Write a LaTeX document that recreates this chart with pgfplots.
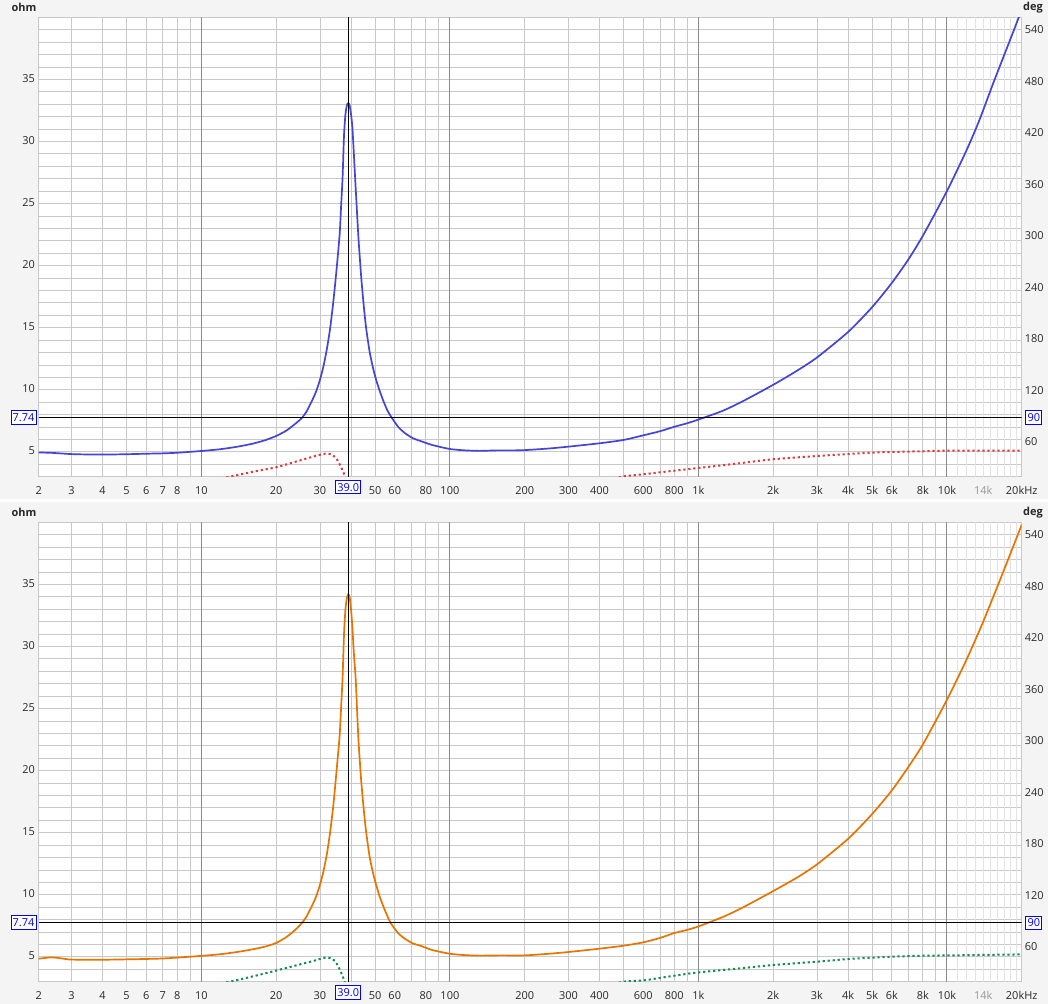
\documentclass[border=0pt]{standalone}
\usepackage{fontspec}
\setmainfont{Open Sans}
\usepackage{pgfplots}
\pgfplotsset{compat=1.18}
\usepackage{pgfplotstable}

\definecolor{bgc}{RGB}{244,244,244}
\definecolor{gridc}{RGB}{200,200,200}
\definecolor{gridd}{RGB}{140,140,140}
\definecolor{gridl}{RGB}{226,226,226}
\definecolor{tickc}{RGB}{40,40,40}
\definecolor{grayfk}{RGB}{150,150,150}
\definecolor{zblue}{RGB}{68,68,214}
\definecolor{zorange}{RGB}{232,116,0}
\definecolor{pred}{RGB}{220,60,60}
\definecolor{pgreen}{RGB}{20,140,80}
\definecolor{mk}{RGB}{0,0,255}

\pgfplotstableread{
f z
2.215 4.95
2.5 4.92
3 4.82
3.5 4.79
4 4.78
5 4.81
6 4.85
7 4.88
8 4.93
10 5.07
12 5.22
14 5.42
16 5.65
18 5.93
20 6.28
22 6.72
24 7.3
25.4 7.74
26.5 8.25
28 9.2
29 9.9
30 10.8
31 11.9
32 13.3
33 15.0
34 17.2
35 19.7
36 22.5
36.5 24.8
37 27.1
37.5 30.5
38 32.2
38.5 32.9
39 33.1
39.5 32.9
40 32.2
40.5 31.2
41 29.3
41.6 26.9
42 25.4
42.5 23.5
43 21.8
44 19.0
45 16.8
46 15.0
47.5 13.1
49 11.8
50.5 10.8
52 10.0
54 9.1
56 8.35
58.4 7.74
62 7.0
66 6.5
71 6.1
76 5.88
85 5.55
100 5.23
115 5.12
132 5.08
155 5.12
180 5.12
200 5.14
250 5.27
300 5.42
400 5.69
500 5.96
600 6.33
700 6.66
800 7.02
900 7.3
1000 7.6
1250 8.3
1500 9.05
2000 10.4
2500 11.55
3000 12.6
4000 14.65
5000 16.65
6000 18.6
7000 20.5
8000 22.4
10000 26.0
12000 29.3
13500 31.7
15400 34.75
17500 37.6
20000 40.6
}\zA

\pgfplotstableread{
f z
2.215 4.85
2.5 4.96
2.8 4.85
3 4.78
4 4.77
5 4.8
7 4.87
10 5.08
12 5.22
14 5.4
16 5.6
18 5.82
20 6.12
22 6.6
24 7.22
25.4 7.74
26.5 8.25
28 9.2
29 9.9
30 10.8
31 11.9
32 13.3
33 15.1
34 17.3
35 20.0
36 22.8
36.5 25.1
37 27.5
37.5 31.0
38 33.0
38.5 33.9
39 34.2
39.5 34.0
40 33.0
40.5 31.6
41 29.7
41.8 27.3
42.5 24.0
43 22.0
44 19.1
45 16.9
46 15.1
47.5 13.1
49 11.8
50.5 10.8
52 9.95
54 9.05
56 8.3
57.7 7.74
62 6.9
66 6.45
71 6.08
76 5.9
85 5.55
100 5.25
115 5.14
132 5.1
160 5.12
200 5.12
250 5.25
300 5.39
400 5.66
500 5.9
600 6.17
700 6.52
800 6.92
900 7.17
1000 7.45
1250 8.2
1500 8.95
2000 10.3
2500 11.4
3000 12.45
4000 14.5
5000 16.5
6000 18.4
7000 20.3
8000 22.1
10000 25.7
12000 28.95
14000 32.0
17000 36.2
20000 39.8
}\zB

\pgfplotstableread{
f p
11 17
13 21
16 26.5
20 32
23 37
26 41.5
28.5 44.8
30 46.5
31.6 47.8
33 47.3
34.5 44
35.5 39
36.5 32
37.3 26
37.9 21
38.4 15
}\pAlow
\pgfplotstableread{
f p
400 14
492 21
600 23.8
700 26.1
800 28
1000 31.1
1500 37
2000 41.3
3000 45.1
4000 47.4
5000 49
6000 49.8
8000 50.6
10000 51.3
15000 51.4
20000 51.3
}\pAhigh

\pgfplotstableread{
f p
11 17
13 21
16 27
20 34
23 38.5
26 42.5
28.5 45.5
30 47.5
31.6 49
33 48.5
34.5 45
35.5 39
36.3 33.3
37 27.5
37.5 23.4
38 17
}\pBlow
\pgfplotstableread{
f p
400 14
500 21
600 22.5
800 28
1000 31.8
1500 36.8
2000 40.4
3000 44.3
4000 47.4
5000 48.9
6000 50.1
8000 51.3
10000 51.6
15000 52.3
20000 52.8
}\pBhigh

\newcommand\tfont{\fontsize{11}{13}\selectfont}
\tikzset{
  zzbox/.style={draw=mk, fill=white, text=mk, line width=0.9bp,
    inner xsep=1.6bp, inner ysep=0pt, minimum height=13.5bp,
    font=\tfont},
  zzlab/.style={font=\tfont\bfseries, text=tickc},
}

\begin{document}
\begin{tikzpicture}
\path[use as bounding box] (0,0) rectangle (1048bp,1004bp);
\fill[bgc] (0,0) rectangle (1048bp,1004bp);
\fill[white] (0,502bp) rectangle (1048bp,505bp);
\fill[white] (38.7bp,527.3bp) rectangle (1021.7bp,986.7bp);
\fill[white] (38.7bp,22.3bp) rectangle (1021.7bp,481.7bp);

% ================= top panel =================
\begin{axis}[
  at={(38.7bp,527.3bp)}, anchor=south west,
  scale only axis, width=983bp, height=459.4bp,
  xmode=log, xmin=2.215, xmax=20000, ymin=3, ymax=40,
  major tick length=0pt, minor tick length=0pt,
  minor x tick num=0, minor y tick num=0,
  axis line style={draw=gridc, line width=1bp},
  xtick={2.215,3,4,5,6,7,8,9,20,30,40,50,60,70,80,90,200,300,400,500,600,700,800,900,2000,3000,4000,5000,6000,7000,8000,9000,20000},
  xticklabels={2,3,4,5,6,7,8,,20,30,,50,60,,80,,200,300,400,,600,,800,,2k,3k,4k,5k,6k,,8k,,20kHz},
  extra x ticks={10,100,1000,10000},
  extra x tick labels={10,100,1k,10k},
  extra x tick style={major grid style={draw=gridd, line width=1bp}},
  ytick={3,4,...,40},
  yticklabels={,,5,,,,,10,,,,,15,,,,,20,,,,,25,,,,,30,,,,,35,,,,,},
  xmajorgrids, ymajorgrids,
  major grid style={draw=gridc, line width=0.8bp},
  xticklabel style={font=\tfont, text=tickc, anchor=mid, yshift=-15bp},
  yticklabel style={font=\tfont, text=tickc, anchor=mid east, inner sep=0pt, xshift=-3.5bp},
]
\draw[gridl, line width=0.8bp]
  (axis cs:11000,3) -- (axis cs:11000,40) (axis cs:12000,3) -- (axis cs:12000,40)
  (axis cs:13000,3) -- (axis cs:13000,40) (axis cs:14000,3) -- (axis cs:14000,40)
  (axis cs:15000,3) -- (axis cs:15000,40) (axis cs:16000,3) -- (axis cs:16000,40)
  (axis cs:17000,3) -- (axis cs:17000,40) (axis cs:18000,3) -- (axis cs:18000,40)
  (axis cs:19000,3) -- (axis cs:19000,40);
\addplot[zblue, line width=1.7bp, smooth, tension=0.4] table[x=f,y=z] {\zA};
\draw[black, line width=1bp] (axis cs:2.215,7.74) -- (axis cs:20000,7.74);
\draw[black, line width=1bp] (axis cs:39,3) -- (axis cs:39,40);
\end{axis}
\begin{axis}[
  at={(38.7bp,527.3bp)}, anchor=south west,
  scale only axis, width=983bp, height=459.4bp,
  xmode=log, xmin=2.215, xmax=20000, ymin=21, ymax=556,
  axis line style={draw=none},
  major tick length=0pt, minor tick length=0pt,
  xtick=\empty,
  ytick={60,120,180,240,300,360,420,480,540},
  yticklabels={60,120,180,240,300,360,420,480,540},
  yticklabel pos=right,
  yticklabel style={font=\tfont, text=tickc, anchor=mid west, inner sep=0pt, xshift=3bp},
]
\addplot[pred, line width=2bp, dash pattern=on 2.2bp off 2.8bp, smooth] table[x=f,y=p] {\pAlow};
\addplot[pred, line width=2bp, dash pattern=on 2.2bp off 2.8bp, smooth] table[x=f,y=p] {\pAhigh};
\end{axis}
\node[zzlab] at (24bp,996.5bp) {ohm};
\node[zzlab] at (1033bp,996.5bp) {deg};
\node[font=\tfont, text=grayfk, anchor=mid] at (983.2bp,512.3bp) {14k};
\node[zzbox] at (23.5bp,586.7bp) {7.74};
\node[zzbox] at (1033.8bp,586.3bp) {90};
\node[zzbox] at (348.3bp,516.8bp) {39.0};

% ================= bottom panel =================
\begin{axis}[
  at={(38.7bp,22.3bp)}, anchor=south west,
  scale only axis, width=983bp, height=459.4bp,
  xmode=log, xmin=2.215, xmax=20000, ymin=3, ymax=40,
  major tick length=0pt, minor tick length=0pt,
  minor x tick num=0, minor y tick num=0,
  axis line style={draw=gridc, line width=1bp},
  xtick={2.215,3,4,5,6,7,8,9,20,30,40,50,60,70,80,90,200,300,400,500,600,700,800,900,2000,3000,4000,5000,6000,7000,8000,9000,20000},
  xticklabels={2,3,4,5,6,7,8,,20,30,,50,60,,80,,200,300,400,,600,,800,,2k,3k,4k,5k,6k,,8k,,20kHz},
  extra x ticks={10,100,1000,10000},
  extra x tick labels={10,100,1k,10k},
  extra x tick style={major grid style={draw=gridd, line width=1bp}},
  ytick={3,4,...,40},
  yticklabels={,,5,,,,,10,,,,,15,,,,,20,,,,,25,,,,,30,,,,,35,,,,,},
  xmajorgrids, ymajorgrids,
  major grid style={draw=gridc, line width=0.8bp},
  xticklabel style={font=\tfont, text=tickc, anchor=mid, yshift=-15bp},
  yticklabel style={font=\tfont, text=tickc, anchor=mid east, inner sep=0pt, xshift=-3.5bp},
]
\draw[gridl, line width=0.8bp]
  (axis cs:11000,3) -- (axis cs:11000,40) (axis cs:12000,3) -- (axis cs:12000,40)
  (axis cs:13000,3) -- (axis cs:13000,40) (axis cs:14000,3) -- (axis cs:14000,40)
  (axis cs:15000,3) -- (axis cs:15000,40) (axis cs:16000,3) -- (axis cs:16000,40)
  (axis cs:17000,3) -- (axis cs:17000,40) (axis cs:18000,3) -- (axis cs:18000,40)
  (axis cs:19000,3) -- (axis cs:19000,40);
\addplot[zorange, line width=1.7bp, smooth, tension=0.4] table[x=f,y=z] {\zB};
\draw[black, line width=1bp] (axis cs:2.215,7.74) -- (axis cs:20000,7.74);
\draw[black, line width=1bp] (axis cs:39,3) -- (axis cs:39,40);
\end{axis}
\begin{axis}[
  at={(38.7bp,22.3bp)}, anchor=south west,
  scale only axis, width=983bp, height=459.4bp,
  xmode=log, xmin=2.215, xmax=20000, ymin=21, ymax=556,
  axis line style={draw=none},
  major tick length=0pt, minor tick length=0pt,
  xtick=\empty,
  ytick={60,120,180,240,300,360,420,480,540},
  yticklabels={60,120,180,240,300,360,420,480,540},
  yticklabel pos=right,
  yticklabel style={font=\tfont, text=tickc, anchor=mid west, inner sep=0pt, xshift=3bp},
]
\addplot[pgreen, line width=2bp, dash pattern=on 2.2bp off 2.8bp, smooth] table[x=f,y=p] {\pBlow};
\addplot[pgreen, line width=2bp, dash pattern=on 2.2bp off 2.8bp, smooth] table[x=f,y=p] {\pBhigh};
\end{axis}
\node[zzlab] at (24bp,491.5bp) {ohm};
\node[zzlab] at (1033bp,491.5bp) {deg};
\node[font=\tfont, text=grayfk, anchor=mid] at (983.2bp,7.3bp) {14k};
\node[zzbox] at (23.5bp,81.4bp) {7.74};
\node[zzbox] at (1033.8bp,81bp) {90};
\node[zzbox] at (348.3bp,11.5bp) {39.0};
\end{tikzpicture}
\end{document}
